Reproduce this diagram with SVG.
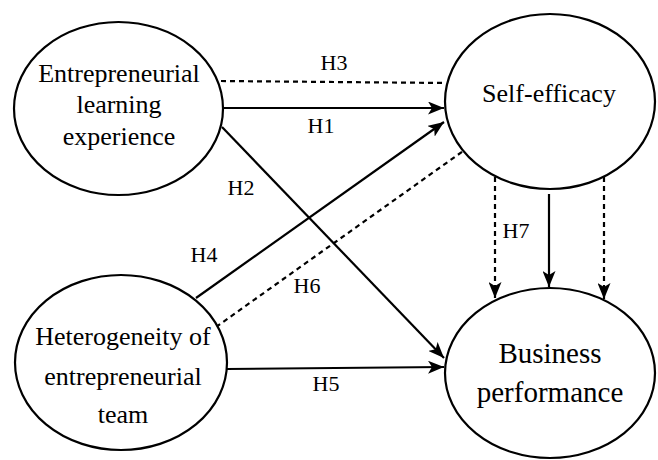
<svg xmlns="http://www.w3.org/2000/svg" width="658" height="460" viewBox="0 0 658 460">
<defs>
<marker id="arr" markerUnits="userSpaceOnUse" markerWidth="17" markerHeight="13" refX="16" refY="6.5" orient="auto">
<path d="M0,0 L16,6.5 L0,13 L4,6.5 z" fill="#000"/>
</marker>
<style>
.node{fill:#fff;stroke:#000;stroke-width:2.2}
text{font-family:'Liberation Serif','Times New Roman',serif;fill:#000;text-anchor:middle}
.n{font-size:26px}
.b{font-size:29px}
.h{font-size:22px}
.c{stroke:#000;stroke-width:2.2;fill:none}
.d{stroke-dasharray:5,4}
.a{marker-end:url(#arr)}
</style>
</defs>
<rect width="658" height="460" fill="#fff"/>
<g id="connectors">
<line class="c d" x1="221" y1="81" x2="446" y2="83"/>
<line class="c a" x1="224" y1="108" x2="444" y2="108"/>
<line class="c a" x1="196" y1="298" x2="444" y2="122"/>
<line class="c d" x1="216" y1="327" x2="466" y2="149"/>
<line class="c a" x1="222" y1="127" x2="444" y2="358"/>
<line class="c a" x1="227" y1="369" x2="444" y2="367"/>
<line class="c d a" x1="495" y1="177" x2="495" y2="298"/>
<line class="c a" x1="549" y1="194" x2="549" y2="287"/>
<line class="c d a" x1="604" y1="177" x2="604" y2="299"/>
<text class="h" x="334" y="70">H3</text>
<text class="h" x="321" y="133">H1</text>
<text class="h" x="241" y="195">H2</text>
<text class="h" x="204" y="262">H4</text>
<text class="h" x="307" y="293">H6</text>
<text class="h" x="326" y="391">H5</text>
<text class="h" x="516" y="238">H7</text>
</g>
<g id="ele">
<ellipse class="node" cx="118.5" cy="108.5" rx="104.5" ry="86.5"/>
<text class="n" x="119" y="82">Entrepreneurial</text>
<text class="n" x="119" y="113">learning</text>
<text class="n" x="119" y="145">experience</text>
</g>
<g id="se">
<ellipse class="node" cx="550" cy="101.5" rx="105" ry="87.5"/>
<text class="n" x="549" y="102">Self-efficacy</text>
</g>
<g id="het">
<ellipse class="node" cx="121" cy="362.5" rx="106" ry="87.5"/>
<text class="n" x="123" y="345">Heterogeneity of</text>
<text class="n" x="123" y="385">entrepreneurial</text>
<text class="n" x="123" y="423">team</text>
</g>
<g id="bp">
<ellipse class="node" cx="550" cy="373" rx="105" ry="85"/>
<text class="b" x="550" y="363">Business</text>
<text class="b" x="550" y="402">performance</text>
</g>
</svg>
